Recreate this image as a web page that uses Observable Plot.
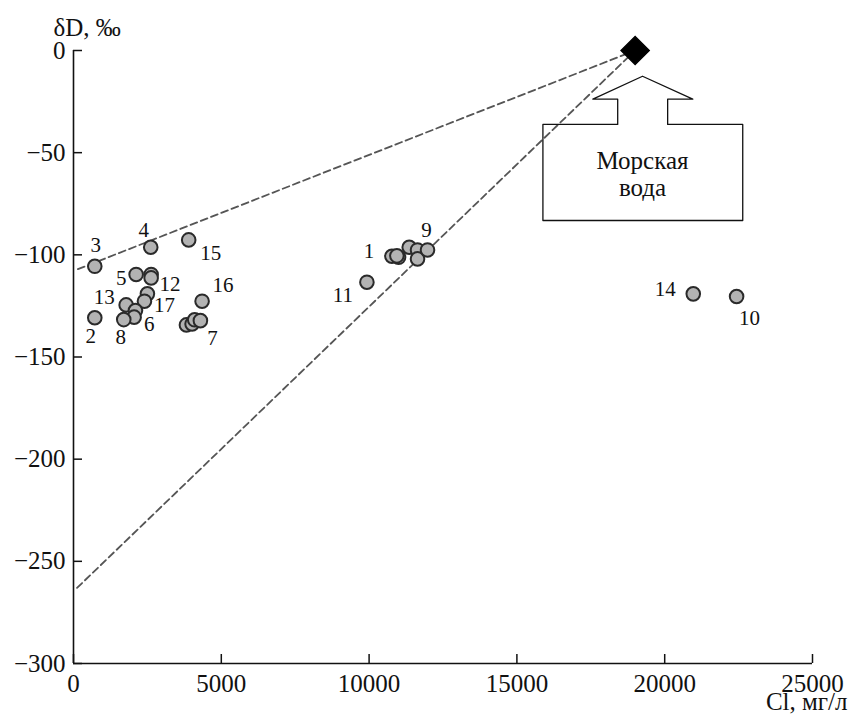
<!DOCTYPE html>
<html>
<head>
<meta charset="utf-8">
<script src="https://cdn.jsdelivr.net/npm/d3@7"></script>
<script src="https://cdn.jsdelivr.net/npm/@observablehq/plot@0.6"></script>
<style>
  html, body { margin: 0; padding: 0; background: #fff; }
  svg text { font-family: 'Liberation Serif', 'Times New Roman', serif !important; }
</style>
</head>
<body>
<div id="chart"></div>
<script>
// ---- Data ----
const clValues = [720, 2613, 3897, 2119, 2626, 2626, 2500, 2400, 1781, 2096, 2051, 1700, 720,
  4350, 3820, 4012, 4100, 4293, 9926, 10772, 10997, 10940, 11357, 11638, 11638, 11976, 20966, 22432];
const dDValues = [-105.6, -96.3, -92.7, -109.6, -109.6, -111.3, -119.1, -122.7, -124.5, -127.3, -130.5, -131.7, -130.8,
  -122.7, -134.3, -133.8, -131.8, -132.2, -113.4, -100.7, -101.2, -100.5, -96.3, -97.6, -102.0, -97.6, -119.1, -120.4];
const pointLabels = ["3", "4", "15", "5", "", "12", "", "17", "13", "", "6", "8", "2",
  "16", "", "", "", "7", "11", "1", "", "", "", "", "", "9", "14", "10"];

const seawaterCl = [19000];
const seawaterDD = [0];

// mixing lines (fresh end -> seawater)
const mixingUpper = [[150, -107], [19000, 0]];
const mixingLower = [[120, -263], [19000, 0]];

const xTicks = [0, 5000, 10000, 15000, 20000, 25000];
const yTicks = [0, -50, -100, -150, -200, -250, -300];

const xTitle = "Cl, мг/л";
const yTitle = "δD, ‰";
const calloutText = "Морская\nвода";

// callout outline (data units), arrow pointing to seawater marker
const calloutOutline = [
  [18410, -36.2], [15880, -36.2], [15880, -83.2], [22640, -83.2], [22640, -36.2],
  [20100, -36.2], [20100, -23.8], [20950, -23.8], [19250, -12.6], [17570, -23.8],
  [18410, -23.8], [18410, -36.2]
];
const calloutTextPos = [[19250, -60.5]];

// label offsets (pixels) relative to their point
const labelOffsets = {
  "3": [1, -21], "4": [-7, -17], "15": [22, 13], "5": [-15, 4], "12": [19, 6],
  "13": [-22, -8], "17": [20, 4], "2": [-4, 18], "8": [-3, 18], "6": [15, 7],
  "16": [21, -16], "7": [12, 18], "1": [-23, -5], "9": [-1, -20], "11": [-24, 13],
  "14": [-28, -5], "10": [13, 22]
};

// ---- Build ----
const FONT = "'Liberation Serif', 'Times New Roman', serif";
const W = 849, H = 722, mT = 50, mR = 37, mB = 59, mL = 73;
const xDomain = [0, 25000], yDomain = [-300, 0];
const TICK_PX = 9;
const tickLenX = TICK_PX * (yDomain[1] - yDomain[0]) / (H - mT - mB);
const tickLenY = TICK_PX * (xDomain[1] - xDomain[0]) / (W - mL - mR);

const points = clValues.map((x, i) => ({x, y: dDValues[i], label: pointLabels[i]}));
const labeled = points.filter(d => d.label !== "");
const lines = [
  ...mixingUpper.map(([x, y]) => ({x, y, k: "upper"})),
  ...mixingLower.map(([x, y]) => ({x, y, k: "lower"}))
];
const fmtY = d => d < 0 ? "\u2212" + Math.abs(d) : String(d);

const labelMarks = labeled.map(d => Plot.text([d], {
  x: "x", y: "y", text: "label",
  dx: labelOffsets[d.label][0], dy: labelOffsets[d.label][1],
  fontSize: 21, fill: "#111", fontFamily: FONT
}));

const chart = Plot.plot({
  width: W,
  height: H,
  marginTop: mT,
  marginRight: mR,
  marginBottom: mB,
  marginLeft: mL,
  style: {fontFamily: FONT, background: "#fff", color: "#111", overflow: "visible"},
  x: {domain: xDomain},
  y: {domain: yDomain},
  marks: [
    // axis lines
    Plot.ruleX([xDomain[0]], {y1: yDomain[0], y2: yDomain[1], stroke: "#111", strokeWidth: 1.6}),
    Plot.ruleY([yDomain[0]], {x1: xDomain[0], x2: xDomain[1], stroke: "#111", strokeWidth: 1.6}),
    // inward ticks
    Plot.ruleX(xTicks, {x: d => d, y1: yDomain[0], y2: yDomain[0] + tickLenX, stroke: "#111", strokeWidth: 1.5}),
    Plot.ruleY(yTicks, {y: d => d, x1: xDomain[0], x2: xDomain[0] + tickLenY, stroke: "#111", strokeWidth: 1.5}),
    // tick labels
    Plot.axisX({ticks: xTicks, tickSize: 0, tickPadding: 11, tickFormat: d => String(d), fontSize: 25, fontFamily: FONT, label: null, fill: "#111"}),
    Plot.axisY({ticks: yTicks, tickSize: 0, tickPadding: 8, tickFormat: fmtY, fontSize: 25, fontFamily: FONT, label: null, fill: "#111"}),
    // mixing lines
    Plot.line(lines, {x: "x", y: "y", z: "k", stroke: "#555", strokeWidth: 1.8, strokeDasharray: "7,4"}),
    // callout
    Plot.line(calloutOutline, {x: d => d[0], y: d => d[1], stroke: "#111", strokeWidth: 1.3}),
    Plot.text(calloutTextPos, {x: d => d[0], y: d => d[1], text: () => calloutText, fontSize: 25, lineHeight: 1.08, fill: "#111", fontFamily: FONT}),
    // points
    Plot.dot(points, {x: "x", y: "y", r: 6.8, fill: "#b3b3b3", stroke: "#2a2a2a", strokeWidth: 2}),
    ...labelMarks,
    // seawater
    Plot.dot(seawaterCl.map((x, i) => ({x, y: seawaterDD[i]})), {x: "x", y: "y", symbol: "square", r: 11.2, rotate: 45, fill: "#000", stroke: "#000"}),
    // axis titles
    Plot.text([xTitle], {frameAnchor: "bottom-right", text: d => d, textAnchor: "end", dx: 35, dy: 46, fontSize: 25, fill: "#111", fontFamily: FONT}),
    Plot.text([yTitle], {frameAnchor: "top-left", text: d => d, textAnchor: "start", dx: -20, dy: -32, fontSize: 25, fill: "#111", fontFamily: FONT})
  ]
});
document.getElementById("chart").appendChild(chart);
</script>
</body>
</html>
